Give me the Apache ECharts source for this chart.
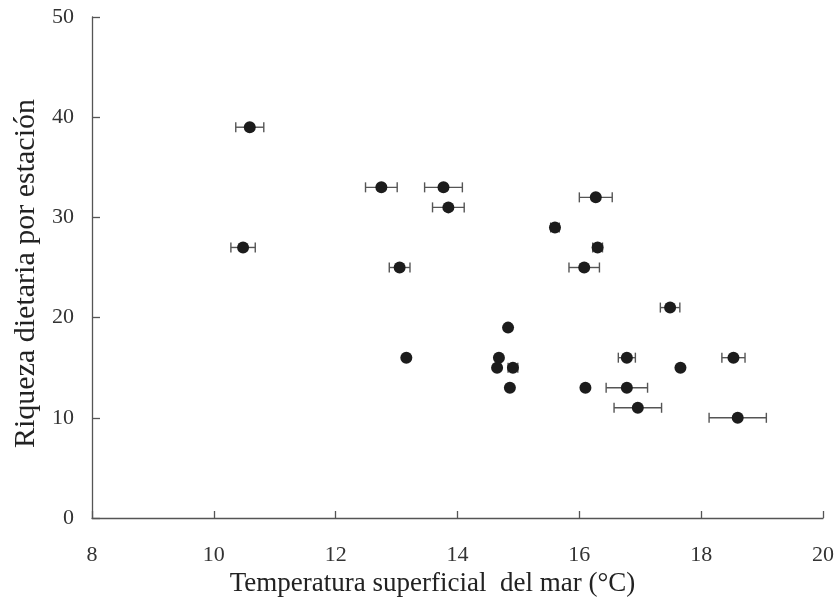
<!DOCTYPE html>
<html>
<head>
<meta charset="utf-8">
<script src="https://cdn.jsdelivr.net/npm/echarts@6/dist/echarts.min.js"></script>
<style>
html,body{margin:0;padding:0;background:#fff;}
#chart{width:837px;height:603px;}
</style>
</head>
<body>
<div id="chart"></div>
<script>
const xTicks = [8, 10, 12, 14, 16, 18, 20];
const yTicks = [0, 10, 20, 30, 40, 50];
const temp = [10.59, 10.48, 12.75, 13.05, 13.16, 13.77, 13.85, 14.83, 14.68, 14.65, 14.91, 14.86, 15.60, 16.27, 16.30, 16.08, 16.10, 16.78, 16.78, 16.96, 17.49, 17.66, 18.53, 18.60];
const riqueza = [39, 27, 33, 25, 16, 33, 31, 19, 16, 15, 15, 13, 29, 32, 27, 25, 13, 16, 13, 11, 21, 15, 16, 10];
const tempErr = [0.23, 0.20, 0.26, 0.17, 0, 0.31, 0.26, 0, 0, 0, 0.08, 0, 0.07, 0.27, 0.08, 0.25, 0, 0.14, 0.34, 0.39, 0.16, 0, 0.19, 0.47];

const pts = temp.map((t, i) => [t, riqueza[i]]);
const errData = temp.map((t, i) => [t, riqueza[i], tempErr[i]]).filter(d => d[2] > 0);

const chart = echarts.init(document.getElementById('chart'));
const serif = '"Liberation Serif", "DejaVu Serif", serif';
const axisCol = '#555';
chart.setOption({
  animation: false,
  backgroundColor: '#fff',
  grid: {left: 92, right: 14, top: 17, bottom: 85},
  xAxis: {
    type: 'value', min: xTicks[0], max: xTicks[xTicks.length - 1], interval: 2,
    name: 'Temperatura superficial  del mar (°C)',
    nameLocation: 'middle', nameGap: 52,
    nameTextStyle: {fontFamily: serif, fontSize: 27, color: '#222', padding: [0, 50, 0, 0]},
    axisLine: {show: true, onZero: false, lineStyle: {color: axisCol, width: 1.3}},
    axisTick: {show: true, inside: true, length: 7, lineStyle: {color: axisCol, width: 1.3}},
    axisLabel: {fontFamily: serif, fontSize: 22, color: '#333', margin: 26},
    splitLine: {show: false}
  },
  yAxis: {
    type: 'value', min: yTicks[0], max: yTicks[yTicks.length - 1], interval: 10,
    name: 'Riqueza dietaria por estación',
    nameLocation: 'middle', nameGap: 50, nameRotate: 90,
    nameTextStyle: {fontFamily: serif, fontSize: 30, color: '#222', padding: [0, 12, 0, 0]},
    axisLine: {show: true, onZero: false, lineStyle: {color: axisCol, width: 1.3}},
    axisTick: {show: true, inside: true, length: 8, lineStyle: {color: axisCol, width: 1.3}},
    axisLabel: {fontFamily: serif, fontSize: 22, color: '#333', margin: 18},
    splitLine: {show: false}
  },
  series: [
    {
      type: 'custom',
      z: 1,
      data: errData,
      renderItem: function (params, api) {
        const x = api.value(0), y = api.value(1), e = api.value(2);
        const p1 = api.coord([x - e, y]);
        const p2 = api.coord([x + e, y]);
        const h = 5;
        const st = {stroke: '#555', lineWidth: 1.4};
        return {
          type: 'group',
          children: [
            {type: 'line', shape: {x1: p1[0], y1: p1[1], x2: p2[0], y2: p2[1]}, style: st},
            {type: 'line', shape: {x1: p1[0], y1: p1[1] - h, x2: p1[0], y2: p1[1] + h}, style: st},
            {type: 'line', shape: {x1: p2[0], y1: p2[1] - h, x2: p2[0], y2: p2[1] + h}, style: st}
          ]
        };
      }
    },
    {
      type: 'scatter',
      z: 2,
      data: pts,
      symbol: 'circle',
      symbolSize: 12,
      itemStyle: {color: '#1c1c1c', opacity: 1}
    }
  ]
});
</script>
</body>
</html>
